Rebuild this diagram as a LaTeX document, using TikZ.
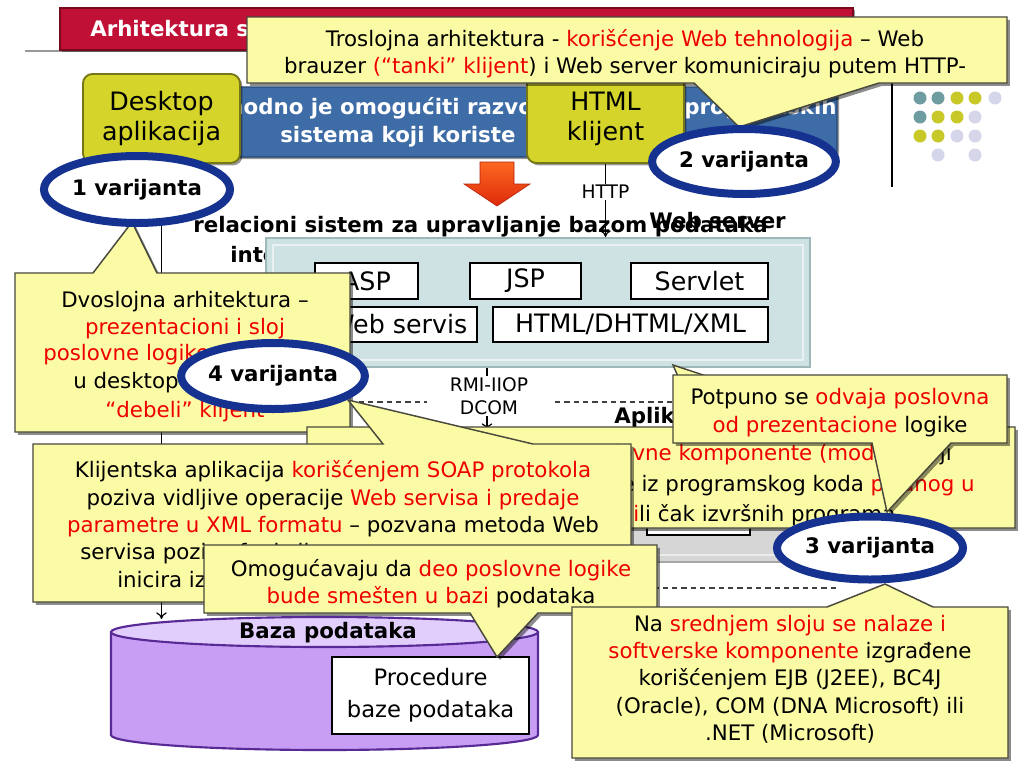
\documentclass[tikz,border=0pt]{standalone}
\usepackage{fontspec}
\setmainfont{DejaVu Sans}
\usetikzlibrary{shapes.geometric,arrows.meta,shadows}
\definecolor{cfill}{RGB}{252,251,165}
\definecolor{calloutline}{RGB}{72,72,60}
\definecolor{rtxt}{RGB}{238,0,0}
\definecolor{oliveY}{RGB}{212,212,42}
\definecolor{oliveD}{RGB}{118,118,24}
\definecolor{bannerB}{RGB}{62,108,166}
\definecolor{bannerD}{RGB}{38,72,118}
\definecolor{titleR}{RGB}{192,16,54}
\definecolor{titleD}{RGB}{120,8,30}
\definecolor{navyB}{RGB}{22,50,145}
\definecolor{dbfill}{RGB}{200,158,245}
\definecolor{dbtop}{RGB}{226,206,252}
\definecolor{dbline}{RGB}{88,42,150}
\definecolor{webfill}{RGB}{206,225,227}
\definecolor{webline}{RGB}{158,184,186}
\definecolor{appfill}{RGB}{214,214,214}
\definecolor{dotT}{RGB}{110,156,160}
\definecolor{dotO}{RGB}{200,200,40}
\definecolor{dotL}{RGB}{214,214,234}
\definecolor{arrA}{RGB}{252,104,32}
\definecolor{arrB}{RGB}{222,42,12}
\newcommand\redt[1]{\textcolor{rtxt}{#1}}
\tikzset{
  bubble/.style={fill=cfill, draw=calloutline, line width=1.1pt,
    drop shadow={shadow xshift=2.2pt, shadow yshift=-2.2pt, opacity=0.45, fill=black}},
  ctext/.style={inner sep=0pt, align=center, font=\fontsize{16}{20.5}\selectfont},
  variant/.style={ellipse, draw=navyB, line width=6pt, fill=white, inner sep=0pt,
    font=\bfseries\fontsize{16}{19}\selectfont},
  olivebox/.style={rectangle, rounded corners=7pt, fill=oliveY, draw=oliveD, line width=1.4pt,
    align=center, inner sep=0pt, font=\fontsize{19}{22}\selectfont,
    drop shadow={shadow xshift=1.8pt, shadow yshift=-1.8pt, opacity=0.4, fill=black}},
  itembox/.style={rectangle, draw=black, line width=2.2pt, fill=white, inner sep=0pt,
    font=\fontsize{19}{22}\selectfont},
  conn/.style={draw=black, line width=0.9pt, -{To[length=5pt,width=8pt]}},
  lbl/.style={fill=white, inner sep=1pt, align=center, font=\fontsize{14}{17}\selectfont},
  boldtxt/.style={inner sep=0pt, font=\bfseries\fontsize{16}{19}\selectfont},
  sepline/.style={draw=black!75, line width=0.8pt, dash pattern=on 4pt off 3pt},
}
\begin{document}
\begin{tikzpicture}[x=0.75pt, y=-0.75pt]
\useasboundingbox (0,0) rectangle (1024,768);
\fill[white] (0,0) rectangle (1024,768);
% title bar
\draw[gray!80, line width=1.1pt] (25,51) -- (853,51);
\node[rectangle, fill=titleR, draw=titleD, line width=1pt, minimum width=793*0.75pt,
  minimum height=42*0.75pt, inner sep=0pt,
  drop shadow={shadow xshift=1.5pt, shadow yshift=-1.5pt, opacity=0.4, fill=black}] (title) at (456.5,29) {};
\node[boldtxt, text=white, anchor=west] (titletext) at (90,29) {Arhitektura sistema};
% decoration right
\draw[black, line width=0.9pt] (892,60) -- (892,187);
\foreach \x/\c in {920/dotT,938/dotT,957/dotO,975/dotO,995/dotL} \fill[\c] (\x,98) circle[radius=6.5];
\foreach \x/\c in {920/dotT,938/dotO,957/dotO,975/dotL} \fill[\c] (\x,117) circle[radius=6.5];
\foreach \x/\c in {920/dotO,938/dotO,957/dotL,975/dotL} \fill[\c] (\x,136) circle[radius=6.5];
\foreach \x/\c in {938/dotL,975/dotL} \fill[\c] (\x,155) circle[radius=6.5];
% blue banner
\node[rectangle, rounded corners=5pt, fill=bannerB, draw=bannerD, line width=1pt,
  minimum width=612*0.75pt, minimum height=70*0.75pt, inner sep=0pt,
  drop shadow={shadow xshift=1.5pt, shadow yshift=-1.5pt, opacity=0.4, fill=black}] (banner) at (531,122) {};
\node[boldtxt, text=white, anchor=west] (bant1) at (166,108) {Neophodno je omogućiti razvoj aplikacija i programskih};
\node[boldtxt, text=white, anchor=west] (bant2) at (280,137) {sistema koji koriste};
% texts under banner
\node[boldtxt, anchor=west] (rel) at (193,227) {relacioni sistem za upravljanje bazom podataka};
\node[boldtxt, anchor=west] (integ) at (230,257) {integrisan};
\node[boldtxt, anchor=west] (wslabel) at (649,221) {Web server};
% web server
\node[rectangle, fill=webfill, draw=webline, line width=1.5pt, minimum width=544*0.75pt,
  minimum height=129*0.75pt, inner sep=0pt] (web) at (538,302.5) {};
\draw[white!55!webfill, line width=1.5pt] ([shift={(8,8)}]web.north west) rectangle ([shift={(-8,-8)}]web.south east);
\node[itembox, minimum width=103*0.75pt, minimum height=36*0.75pt] (asp) at (366.5,281) {ASP};
\node[itembox, minimum width=111*0.75pt, minimum height=36*0.75pt] (jsp) at (525.5,281) {JSP};
\node[itembox, minimum width=137*0.75pt, minimum height=36*0.75pt] (servlet) at (699.5,281) {Servlet};
\node[itembox, minimum width=157*0.75pt, minimum height=35*0.75pt] (wservis) at (398.5,324.5) {Web servis};
\node[itembox, minimum width=275*0.75pt, minimum height=35*0.75pt] (htmlx) at (630.5,324.5) {HTML/DHTML/XML};
% application server
\node[boldtxt, anchor=west] (aplik) at (614,418) {Aplikacioni server};
\node[rectangle, fill=appfill, draw=gray!70, line width=1.2pt, minimum width=260*0.75pt,
  minimum height=132*0.75pt, inner sep=0pt] (app) at (720,496) {};
\draw[white!50!appfill, line width=1.5pt] ([shift={(8,8)}]app.north west) rectangle ([shift={(-8,-8)}]app.south east);
\node[itembox, minimum width=103*0.75pt, minimum height=40*0.75pt] (appin) at (698.5,515) {};
% tier separators
\draw[sepline] (340,402) -- (427,402);
\draw[sepline] (555,402) -- (700,402);
\draw[sepline] (560,588) -- (837,588);
% RMI connector
\coordinate (rmiX) at (487,0);
\coordinate (rmiEnd) at (487,430);
\draw[conn] (web.south -| rmiX) -- (rmiEnd);
\node[lbl] (rmi) at (489,396) {RMI-IIOP\\DCOM};
% database
\path[fill=dbfill, draw=dbline, line width=1.6pt] (111,632) -- (111,735)
  arc[start angle=180, end angle=0, x radius=213.5, y radius=15] -- (538,632);
\path[fill=dbtop, draw=dbline, line width=1.6pt] (324.5,632) ellipse [x radius=213.5, y radius=15];
\node[boldtxt] (dbname) at (328,633) {Baza podataka};
\node[itembox, minimum width=197*0.75pt, minimum height=77*0.75pt, align=center,
  font=\fontsize{17}{24}\selectfont] (proc) at (430.5,695.5) {Procedure\\baze podataka};
\coordinate (dbin) at (161.5,619);
% clients
\node[olivebox, minimum width=157*0.75pt, minimum height=89*0.75pt] (desk) at (161.5,118.5) {Desktop\\aplikacija};
\node[olivebox, minimum width=157*0.75pt, minimum height=88*0.75pt] (html) at (605.5,119) {HTML\\klijent};
\draw[conn] (desk.south) -- (dbin);
\draw[conn] (html.south) -- (html.south |- web.north);
\node[lbl] (http) at (605.5,192) {HTTP};
% red arrow
\path[top color=arrA, bottom color=arrB, draw=arrB!80!black, line width=0.5pt]
  (480,162) -- (514,162) -- (514,184) -- (530,184) -- (497,206) -- (464,184) -- (480,184) -- cycle;
% callouts
\path[bubble] (15,273) -- (93,273) -- (132,222) -- (157,273) -- (350,273) -- (350,432) -- (15,432) -- cycle;
\node[ctext] (dvo1) at (185,315) {Dvoslojna arhitektura –\\\redt{prezentacioni i sloj}};
\node[ctext, anchor=west, text=rtxt] (dvo3) at (43,355) {poslovne logike zajedno};
\node[ctext, anchor=west] (dvo4) at (73,383) {u desktop aplikaciji};
\node[ctext, text=rtxt] (dvo5) at (185,412) {“debeli” klijent};

\path[bubble] (307,427) -- (700,427) -- (673,365) -- (860,427) -- (1015,427) -- (1015,528) -- (307,528) -- cycle;
\node[ctext, anchor=east] (mid1) at (952,455) {\redt{Poslovne komponente (moduli)} koji};
\node[ctext, anchor=east] (mid2) at (975,486) {sastoje se iz programskog koda \redt{pisanog u}};
\node[ctext, anchor=west] (mid3) at (633,515) {\redt{i}li čak izvršnih programa};

\path[bubble] (33,444) -- (383,444) -- (348,400) -- (533,444) -- (631,444) -- (631,602) -- (33,602) -- cycle;
\node[ctext] (klij) at (333,499) {Klijentska aplikacija \redt{korišćenjem SOAP protokola}\\poziva vidljive operacije \redt{Web servisa i predaje}\\\redt{parametre u XML formatu} – pozvana metoda Web};
\node[ctext, anchor=west] (klij4) at (80,554) {servisa poziva funkcije};
\node[ctext, anchor=west] (klij5) at (117,581) {inicira izvršenje};

\path[bubble] (204,545) -- (657,545) -- (657,613) -- (538,613) -- (497,657) -- (470,613) -- (204,613) -- cycle;
\node[ctext] (omog) at (431,583.5) {Omogućavaju da \redt{deo poslovne logike}\\\redt{bude smešten u bazi} podataka};

\path[bubble] (673,375) -- (1007,375) -- (1007,443) -- (951,443) -- (887,512) -- (872,443) -- (673,443) -- cycle;
\node[ctext] (potp) at (840,412.5) {Potpuno se \redt{odvaja poslovna}\\\redt{od prezentacione} logike};

\path[bubble] (572,607) -- (827,607) -- (885,584) -- (933,607) -- (1008,607) -- (1008,758) -- (572,758) -- cycle;
\node[ctext] (nasr) at (790,679) {Na \redt{srednjem sloju se nalaze i}\\\redt{softverske komponente} izgrađene\\korišćenjem EJB (J2EE), BC4J\\(Oracle), COM (DNA Microsoft) ili\\.NET (Microsoft)};

\path[bubble] (247,17) -- (1007,17) -- (1007,83) -- (879,83) -- (739,127) -- (694,83) -- (247,83) -- cycle;
\node[ctext] (tros) at (625,54) {Troslojna arhitektura - \redt{korišćenje Web tehnologija} – Web\\brauzer \redt{(“tanki” klijent}) i Web server komuniciraju putem HTTP-};
% variant ellipses
\node[variant, minimum width=186*0.75pt, minimum height=67*0.75pt] (v1) at (137,189.5) {1 varijanta};
\node[variant, minimum width=182*0.75pt, minimum height=65*0.75pt] (v2) at (744,161.5) {2 varijanta};
\node[variant, minimum width=186*0.75pt, minimum height=63*0.75pt] (v3) at (870,548) {3 varijanta};
\node[variant, minimum width=182*0.75pt, minimum height=66*0.75pt] (v4) at (273,376) {4 varijanta};
\end{tikzpicture}
\end{document}
